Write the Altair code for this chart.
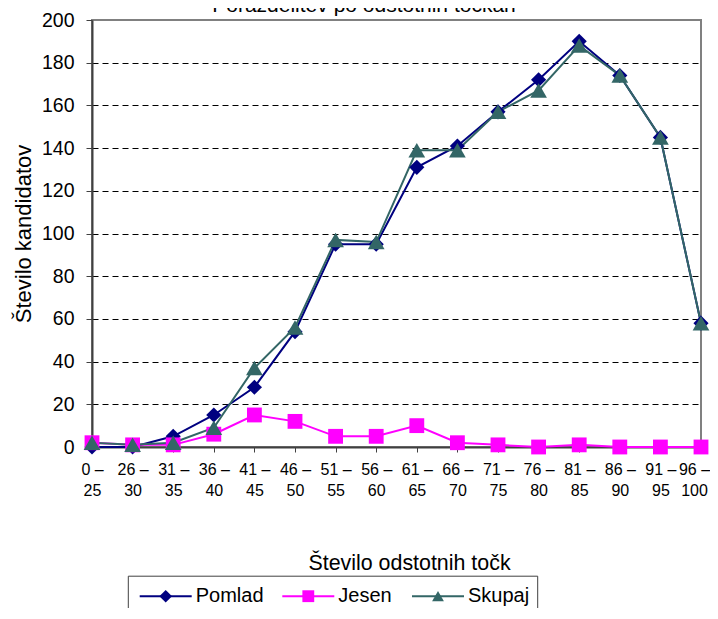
import altair as alt
import pandas as pd

TITLE = "Porazdelitev po odstotnih točkah"
X_TITLE = "Število odstotnih točk"
Y_TITLE = "Število kandidatov"

categories = ["0 – 25", "26 – 30", "31 – 35", "36 – 40", "41 – 45", "46 – 50",
              "51 – 55", "56 – 60", "61 – 65", "66 – 70", "71 – 75", "76 – 80",
              "81 – 85", "86 – 90", "91 – 95", "96 – 100"]
series = ["Pomlad", "Jesen", "Skupaj"]
pomlad = [0, 0, 5, 15, 28, 54, 95, 95, 131, 141, 157, 172, 190, 174, 145, 58]
jesen = [2, 1, 1, 6, 15, 12, 5, 5, 10, 2, 1, 0, 1, 0, 0, 0]
skupaj = [2, 1, 2, 9, 37, 56, 97, 96, 139, 139, 157, 167, 188, 174, 145, 58]
y_ticks = [0, 20, 40, 60, 80, 100, 120, 140, 160, 180, 200]

# styles / layout (not data)
colors = ["#000080", "#FF00FF", "#336666"]
shapes = ["diamond", "square", "triangle-up"]
marker_sizes = [230, 220, 280]
legend_marker_sizes = [160, 140, 140]
LEGEND_CX = [73.7, 216.3, 346.0]   # legend entry centres, relative to plot origin
LEGEND_CY = 576.2
LEGEND_HALF = 26
LEGEND_LABEL_DX = 30
LEGEND_BOX = (36.3, 556.2, 445.7, 600)
FONT = "Liberation Sans"

rows = []
for s, vals in zip(series, [pomlad, jesen, skupaj]):
    for c, v in zip(categories, vals):
        rows.append({"cat": c, "series": s, "value": v})
df = pd.DataFrame(rows)

last_label_test = f"datum.value == '{categories[-1]}'"
x_enc = alt.X(
    "cat:N", sort=categories, scale=alt.Scale(type="point", padding=0),
    axis=alt.Axis(
        title=X_TITLE, labelAngle=0,
        labelExpr="[split(datum.value, ' – ')[0] + ' –', split(datum.value, ' – ')[1]]",
        labelFontSize=16, labelPadding=9, labelBaseline="top", labelLineHeight=21,
        labelOffset={"condition": {"test": last_label_test, "value": -7}, "value": 0},
        tickSize=5, tickColor="#404040", domainColor="#404040", domainWidth=2,
        titleFontSize=21.4, titleFontWeight="normal", titleX=317, titleY=116,
        titleBaseline="middle", titleAlign="center", grid=False,
    ),
)
y_enc = alt.Y(
    "value:Q", scale=alt.Scale(domain=[0, 200], nice=False),
    axis=alt.Axis(
        values=y_ticks, title=Y_TITLE, labelFontSize=19.5, labelPadding=12,
        tickSize=6, tickColor="#404040", domainColor="#404040", domainWidth=2,
        grid=True, gridColor="black", gridDash=[6, 4], gridWidth=1,
        gridOpacity={"condition": {"test": "datum.value == 0 || datum.value == 200", "value": 0}, "value": 1},
        titleFontSize=22, titleFontWeight="normal", titleX=-69, titleY=213.5,
        titleAngle=-90, titleBaseline="middle", titleAlign="center",
    ),
)
color_enc = alt.Color("series:N", scale=alt.Scale(domain=series, range=colors),
                      sort=series, legend=None)

base = alt.Chart(df).encode(x=x_enc, y=y_enc)

lines = base.mark_line(strokeWidth=2).encode(color=color_enc)

point_layers = []
for s, shp, sz in zip(series, shapes, marker_sizes):
    point_layers.append(
        base.mark_point(filled=True, opacity=1, shape=shp, size=sz)
        .encode(color=color_enc)
        .transform_filter(alt.datum.series == s)
    )

# legend (drawn as marks)
one = pd.DataFrame({"k": [0]})
legend_layers = [
    alt.Chart(one).mark_rect(fill="white", stroke="#404040", strokeWidth=1).encode(
        x=alt.value(LEGEND_BOX[0]), x2=alt.value(LEGEND_BOX[2]),
        y=alt.value(LEGEND_BOX[1]), y2=alt.value(LEGEND_BOX[3]),
    )
]
for s, col, shp, sz, cx in zip(series, colors, shapes, legend_marker_sizes, LEGEND_CX):
    lab = pd.DataFrame({"label": [s]})
    legend_layers.append(
        alt.Chart(lab).mark_rule(color=col, strokeWidth=2).encode(
            x=alt.value(cx - LEGEND_HALF), x2=alt.value(cx + LEGEND_HALF), y=alt.value(LEGEND_CY))
    )
    legend_layers.append(
        alt.Chart(lab).mark_point(filled=True, opacity=1, shape=shp, size=sz, color=col).encode(
            x=alt.value(cx), y=alt.value(LEGEND_CY))
    )
    legend_layers.append(
        alt.Chart(lab).mark_text(align="left", baseline="middle", fontSize=20, color="black").encode(
            text="label:N", x=alt.value(cx + LEGEND_LABEL_DX), y=alt.value(LEGEND_CY))
    )

title_layer = alt.Chart(pd.DataFrame({"t": [TITLE]})).mark_text(
    fontSize=21, baseline="alphabetic", align="center", color="black"
).encode(text="t:N", x=alt.value(272), y=alt.value(-8))

chart = alt.layer(lines, *point_layers, *legend_layers, title_layer).properties(
    width=609, height=427,
    autosize=alt.AutoSizeParams(type="none"),
    padding={"left": 84, "top": 12, "right": 9, "bottom": 161},
).configure(font=FONT).configure_view(
    stroke="#808080", strokeWidth=2
).configure_axis(labelColor="black", titleColor="black")

chart.save("out.html", embed_options={"renderer": "svg", "actions": False})
